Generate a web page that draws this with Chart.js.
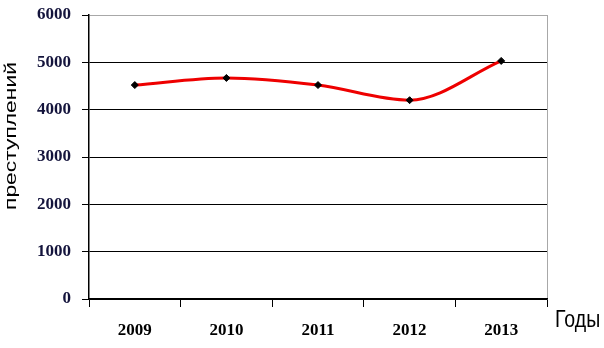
<!DOCTYPE html>
<html>
<head>
<meta charset="utf-8">
<script src="https://cdn.jsdelivr.net/npm/chart.js@4/dist/chart.umd.min.js"></script>
<style>
	html, body { margin: 0; padding: 0; background: #fff; }
	#wrap { width: 604px; height: 348px; }
</style>
</head>
<body>
<div id="wrap"><canvas id="chart"></canvas></div>
<script>
const years = ["2009", "2010", "2011", "2012", "2013"];
const crimes = [4520, 4670, 4520, 4200, 5030];
const yTicks = [0, 1000, 2000, 3000, 4000, 5000, 6000];
const yTitle = "преступлений";
const xTitle = "Годы";

// extra texts placed like in the original picture
const sideLabels = {
	id: "sideLabels",
	afterDraw(chart) {
		const ctx = chart.ctx;
		ctx.save();
		ctx.fillStyle = "#000";
		ctx.font = "17px 'Liberation Sans', Arial, sans-serif";
		let w = ctx.measureText(yTitle).width;
		ctx.translate(11, 136);
		ctx.rotate(-Math.PI / 2);
		ctx.scale(148 / w, 1);
		ctx.textAlign = "center";
		ctx.textBaseline = "middle";
		ctx.fillText(yTitle, 0, 0);
		ctx.restore();

		ctx.save();
		ctx.fillStyle = "#000";
		ctx.font = "23px 'Liberation Sans', Arial, sans-serif";
		ctx.translate(555, 327);
		ctx.scale(0.85, 1);
		ctx.textBaseline = "alphabetic";
		ctx.fillText(xTitle, 0, 0);
		ctx.restore();
	},
};

const tickFont = { family: "'Liberation Serif', 'Times New Roman', serif", size: 17, weight: "bold" };

let ctx = document.getElementById("chart").getContext("2d");

let chart = new Chart(ctx, {
	type: "line",
	data: {
		labels: years,
		datasets: [
			{
				data: crimes,
				borderColor: "#ee0000",
				borderWidth: 3,
				cubicInterpolationMode: "monotone",
				pointStyle: "rectRot",
				pointRadius: 3.5,
				pointBackgroundColor: "#000",
				pointBorderColor: "#000",
				pointBorderWidth: 1,
			},
		],
	},
	options: {
		responsive: true,
		maintainAspectRatio: false,
		animation: false,
		layout: {
			padding: { left: 0, right: 57, top: 15, bottom: 0 },
		},
		plugins: {
			legend: { display: false },
			tooltip: { enabled: false },
		},
		scales: {
			x: {
				offset: true,
				afterFit(scale) {
					scale.height = 49;
					scale.paddingLeft = 0;
					scale.paddingRight = 0;
				},
				grid: {
					offset: true,
					drawOnChartArea: true,
					// only the right edge of the plot gets a line
					color: (c) => (c.tick ? "transparent" : "#a8a8a8"),
					tickColor: "#000",
					tickLength: 8,
					lineWidth: 1,
				},
				border: { color: "#000", width: 1.5 },
				ticks: {
					color: "#000",
					padding: 13,
					font: tickFont,
				},
			},
			y: {
				min: 0,
				max: 6000,
				afterFit(scale) {
					scale.width = 89;
					scale.paddingTop = 0;
					scale.paddingBottom = 0;
				},
				afterBuildTicks(scale) {
					scale.ticks = yTicks.map((v) => ({ value: v }));
				},
				grid: {
					color: (c) => (c.tick && c.tick.value === 6000 ? "#a8a8a8" : "#000"),
					tickColor: "#000",
					tickLength: 7,
					lineWidth: 1,
				},
				border: { color: "#000", width: 1.5 },
				ticks: {
					color: "#14143c",
					padding: 11,
					font: tickFont,
					callback: (v) => String(v),
				},
			},
		},
	},
	plugins: [sideLabels],
});
</script>
</body>
</html>
